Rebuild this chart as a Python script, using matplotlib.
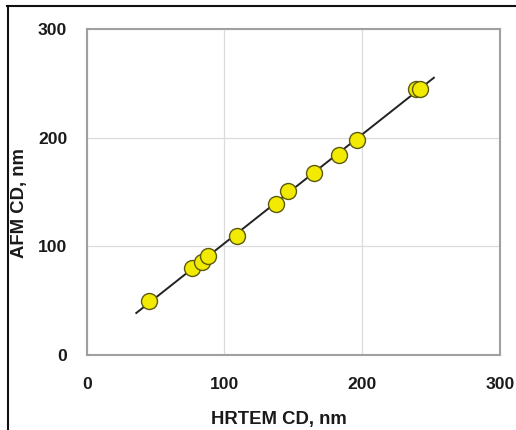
import numpy as np
import matplotlib
matplotlib.use("Agg")
import matplotlib.pyplot as plt
from matplotlib.lines import Line2D

# HRTEM vs AFM critical dimension, nm
hrtem = [45.2, 76.2, 84.0, 88.3, 108.9, 137.5, 146.4, 165.0, 183.5, 196.0, 239.0, 242.0]
afm = [49.8, 80.4, 85.6, 91.1, 110.0, 139.4, 150.7, 167.6, 184.4, 198.2, 245.0, 244.7]
fit_range = [36, 252]
ticks = [0, 100, 200, 300]

plt.rcParams["font.family"] = ["Liberation Sans", "DejaVu Sans"]

fig = plt.figure(figsize=(5.16, 4.30), dpi=100)
ax = fig.add_axes([0.168, 0.174, 0.801, 0.759])

slope, icpt = np.polyfit(hrtem, afm, 1)
xs = np.array(fit_range, dtype=float)
ax.plot(xs, slope * xs + icpt, color="#222222", lw=1.4, zorder=2)
ax.plot(hrtem, afm, "o", ms=11.5, mfc="#f2ea00", mec="#5c5a10", mew=1.0, zorder=3)

ax.set_xlim(0, 300)
ax.set_ylim(0, 300)
ax.set_xticks(ticks)
ax.set_yticks(ticks)
ax.grid(True, color="#dcdcdc", lw=0.9)
ax.set_axisbelow(True)
ax.tick_params(length=0, labelsize=12.6, pad=16, colors="#1a1a1a")
ax.tick_params(axis="y", pad=14)
for lab in ax.get_xticklabels() + ax.get_yticklabels():
    lab.set_fontweight("bold")
for sp in ax.spines.values():
    sp.set_color("#a0a0a0")
    sp.set_linewidth(1.5)

ax.set_xlabel("HRTEM CD, nm", fontsize=13.3, fontweight="bold", color="#1a1a1a")
ax.set_ylabel("AFM CD, nm", fontsize=13.3, fontweight="bold", color="#1a1a1a")
ax.xaxis.set_label_coords(0.465, -0.172)
ax.yaxis.set_label_coords(-0.142, 0.465)

# outer frame (left and top edges of the original panel)
fig.add_artist(Line2D([7.5 / 516, 7.5 / 516], [0, 1 - 6 / 430], transform=fig.transFigure, color="#111111", lw=1.5))
fig.add_artist(Line2D([7 / 516, 1], [1 - 6 / 430, 1 - 6 / 430], transform=fig.transFigure, color="#111111", lw=1.5))

fig.savefig("out.png", dpi=100)
